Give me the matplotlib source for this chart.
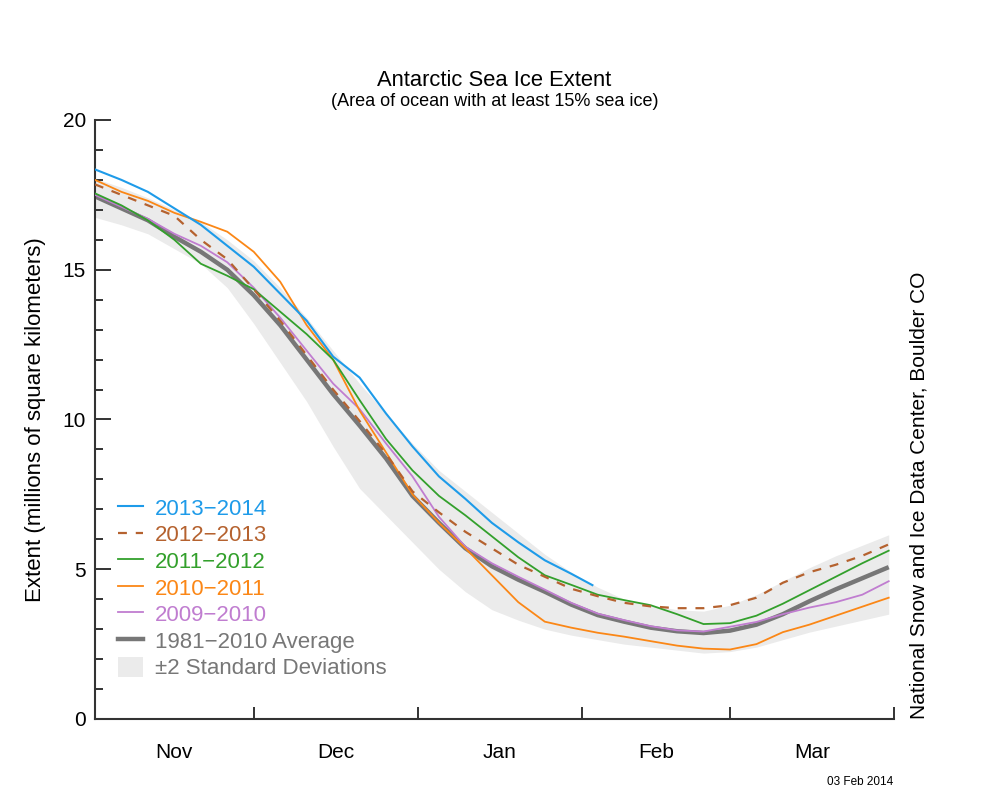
import matplotlib
matplotlib.use('Agg')
import matplotlib.pyplot as plt
from matplotlib.patches import Patch
from matplotlib.lines import Line2D

plt.rcParams['font.family'] = ['Liberation Sans', 'DejaVu Sans']

# day 0 = 1 Nov, samples every 5 days
days = [0, 5, 10, 15, 20, 25, 30, 35, 40, 45, 50, 55, 60, 65, 70, 75,
        80, 85, 90, 95, 100, 105, 110, 115, 120, 125, 130, 135, 140, 145, 150]

avg_1981_2010 = [17.45, 17.05, 16.65, 16.1, 15.6, 15.0, 14.15, 13.15, 12.0, 10.85, 9.8,
                 8.7, 7.45, 6.55, 5.7, 5.1, 4.65, 4.25, 3.82, 3.47, 3.25, 3.05, 2.93,
                 2.87, 2.95, 3.15, 3.5, 3.93, 4.33, 4.7, 5.07]
std_upper = [18.05, 17.75, 17.4, 17.0, 16.6, 16.0, 15.3, 14.4, 13.4, 12.3, 11.2,
             10.2, 9.2, 8.3, 7.6, 6.9, 6.2, 5.5, 4.9, 4.4, 4.0, 3.8, 3.65,
             3.6, 3.8, 4.15, 4.6, 5.05, 5.45, 5.8, 6.15]
std_lower = [16.75, 16.5, 16.2, 15.7, 15.2, 14.4, 13.2, 11.9, 10.6, 9.1, 7.7,
             6.8, 5.9, 5.0, 4.25, 3.65, 3.3, 3.0, 2.8, 2.65, 2.5, 2.4, 2.3,
             2.2, 2.25, 2.4, 2.65, 2.9, 3.1, 3.3, 3.5]

days_2013 = [0, 5, 10, 15, 20, 25, 30, 35, 40, 45, 50, 55, 60, 65, 70, 75, 80, 85, 90, 94]
ext_2013 = [18.35, 18.0, 17.6, 17.05, 16.5, 15.8, 15.1, 14.2, 13.3, 12.1, 11.4,
            10.2, 9.1, 8.1, 7.35, 6.55, 5.9, 5.3, 4.85, 4.47]
ext_2012 = [17.85, 17.5, 17.15, 16.8, 16.0, 15.35, 14.35, 13.3, 12.15, 11.0, 9.95,
            8.85, 7.6, 6.9, 6.25, 5.7, 5.15, 4.75, 4.35, 4.1, 3.88, 3.76, 3.7,
            3.7, 3.8, 4.05, 4.55, 4.9, 5.15, 5.45, 5.83]
ext_2011 = [17.55, 17.15, 16.65, 16.0, 15.2, 14.8, 14.35, 13.6, 12.85, 12.0, 10.65,
            9.35, 8.3, 7.45, 6.8, 6.1, 5.4, 4.8, 4.48, 4.15, 3.97, 3.8, 3.5,
            3.17, 3.2, 3.45, 3.85, 4.3, 4.75, 5.2, 5.62]
ext_2010 = [18.0, 17.6, 17.3, 16.9, 16.6, 16.27, 15.6, 14.6, 13.15, 12.0, 10.3,
            8.9, 7.5, 6.55, 5.7, 4.8, 3.9, 3.25, 3.05, 2.88, 2.75, 2.6, 2.45,
            2.35, 2.32, 2.5, 2.9, 3.15, 3.45, 3.75, 4.05]
ext_2009 = [17.5, 17.1, 16.7, 16.2, 15.8, 15.25, 14.4, 13.4, 12.3, 11.2, 10.35,
            9.2, 8.1, 6.75, 5.75, 5.2, 4.75, 4.32, 3.88, 3.52, 3.3, 3.1, 2.96,
            2.92, 3.08, 3.24, 3.5, 3.72, 3.9, 4.15, 4.6]

month_edges = [30, 61, 92, 120, 151]
month_mids = [15, 45.5, 76.5, 106, 135.5]
month_names = ['Nov', 'Dec', 'Jan', 'Feb', 'Mar']

c_2013 = '#1e9be9'
c_2012 = '#b5622f'
c_2011 = '#33a02c'
c_2010 = '#fb8716'
c_2009 = '#c07dd0'
c_avg = '#777777'
c_std = '#ebebeb'

fig = plt.figure(figsize=(10, 8), dpi=100)
ax = fig.add_axes([0.095, 0.10125, 0.799, 0.74875])

ax.fill_between(days, std_lower, std_upper, color=c_std, lw=0, zorder=1)
ax.plot(days, avg_1981_2010, color=c_avg, lw=3.2, zorder=2, solid_capstyle='butt')
ax.plot(days, ext_2009, color=c_2009, lw=1.3, zorder=3)
ax.plot(days, ext_2010, color=c_2010, lw=1.3, zorder=3)
ax.plot(days, ext_2011, color=c_2011, lw=1.3, zorder=3)
ax.plot(days, ext_2012, color=c_2012, lw=1.6, ls=(0, (4, 4)), zorder=3)
ax.plot(days_2013, ext_2013, color=c_2013, lw=1.5, zorder=4)

ax.set_xlim(0, 151)
ax.set_ylim(0, 20)

for s in ['top', 'right']:
    ax.spines[s].set_visible(False)
for s in ['left', 'bottom']:
    ax.spines[s].set_color('#333333')
    ax.spines[s].set_linewidth(1.5)

ax.set_yticks([0, 5, 10, 15, 20])
ax.set_yticks(range(0, 21), minor=True)
ax.tick_params(axis='y', which='major', direction='in', length=11.5, width=1.4,
               color='#333333', labelsize=15, pad=6.5)
ax.tick_params(axis='y', which='minor', direction='in', length=5.8, width=1.4,
               color='#333333')

ax.set_xticks(month_edges)
ax.set_xticklabels([])
ax.set_xticks(month_mids, minor=True)
ax.set_xticklabels(month_names, minor=True)
ax.tick_params(axis='x', which='major', direction='in', length=8.6, width=1.4,
               color='#333333')
ax.tick_params(axis='x', which='minor', length=0, labelsize=15, pad=17)

ax.set_ylabel('Extent (millions of square kilometers)', fontsize=16, labelpad=12)

fig.text(0.4945, 0.8995, 'Antarctic Sea Ice Extent', ha='center', va='center', fontsize=15.8)
fig.text(0.4945, 0.8725, '(Area of ocean with at least 15% sea ice)', ha='center',
         va='center', fontsize=13)
fig.text(0.919, 0.10125, 'National Snow and Ice Data Center, Boulder CO', rotation=90,
         ha='center', va='bottom', fontsize=15)
fig.text(0.893, 0.0225, '03 Feb 2014', ha='right', va='center', fontsize=8.5)

handles = [
    Line2D([], [], color=c_2013, lw=1.5),
    Line2D([], [], color=c_2012, lw=1.6, ls=(0, (4, 4))),
    Line2D([], [], color=c_2011, lw=1.3),
    Line2D([], [], color=c_2010, lw=1.3),
    Line2D([], [], color=c_2009, lw=1.3),
    Line2D([], [], color=c_avg, lw=3.2),
    Patch(facecolor=c_std, edgecolor='none'),
]
labels = ['2013\u22122014', '2012\u22122013', '2011\u22122012', '2010\u22122011',
          '2009\u22122010', '1981\u22122010 Average', '\u00b12 Standard Deviations']
ax.legend(handles, labels, loc='lower left', bbox_to_anchor=(0.118, 0.151),
          bbox_transform=fig.transFigure, frameon=False, fontsize=16,
          handlelength=1.13, handleheight=1.0, handletextpad=0.55, labelspacing=0.18,
          borderaxespad=0, borderpad=0,
          labelcolor=[c_2013, c_2012, c_2011, c_2010, c_2009, c_avg, c_avg])

plt.savefig('out.png', dpi=100)
plt.close()
